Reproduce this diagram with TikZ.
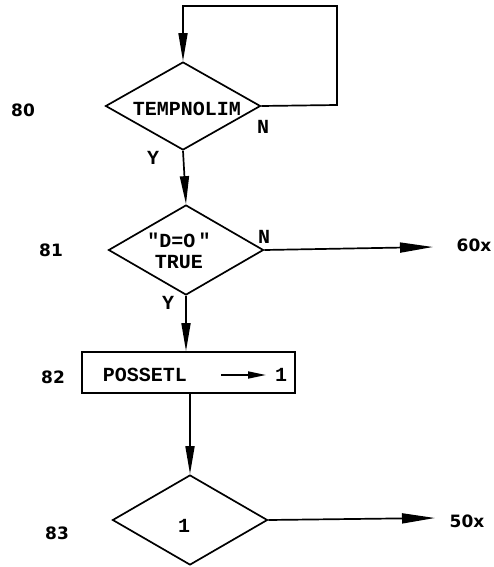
\documentclass[tikz,border=0pt]{standalone}
\usepackage{fontspec}
\setmainfont{Liberation Serif}
\newfontfamily\twfont{Liberation Mono}
\newfontfamily\lblfont{DejaVu Sans}
\usetikzlibrary{shapes.geometric,arrows.meta}
\tikzset{
  dia/.style={diamond, draw, line width=1.7pt, inner sep=0pt, minimum width=155pt, minimum height=88pt},
  procbox/.style={rectangle, draw, line width=1.7pt, inner sep=0pt, minimum width=213pt, minimum height=41pt},
  tw/.style={font=\twfont\bfseries\fontsize{20}{21}\selectfont, inner sep=0pt, align=center},
  lbl/.style={font=\lblfont\bfseries\fontsize{17}{19}\selectfont, inner sep=0pt},
  arr/.style={line width=1.7pt, -{Triangle[length=28pt,width=9pt]}},
  harr/.style={line width=1.7pt, -{Triangle[length=33pt,width=10pt]}},
  smarr/.style={line width=1.7pt, -{Triangle[length=18pt,width=7pt]}}
}
\begin{document}
\begin{tikzpicture}[x=1pt,y=-1pt]
\useasboundingbox (0,0) rectangle (493,567);
% nodes
\node[dia, minimum height=88pt] (d80) at (183,106) {};
\node[tw] (t80) at (187,109) {TEMPNOLIM};
\node[dia, minimum height=90pt] (d81) at (186,250) {};
\node[tw] (t81) at (179,251) {"D=O\,"\\TRUE};
\node[procbox] (r82) at (188.5,372.5) {};
\node[tw] (t82) at (145,375) {POSSETL};
\node[tw] (one82) at (281,375) {1};
\node[dia, minimum height=90pt] (d83) at (190,520) {};
\node[tw] (t83) at (184,526) {1};
% side labels
\node[lbl] (l80) at (23,110) {80};
\node[lbl] (l81) at (51,250) {81};
\node[lbl] (l82) at (53,377) {82};
\node[lbl] (l83) at (57,533) {83};
\node[lbl] (x60) at (474,245) {60x};
\node[lbl] (x50) at (467,521) {50x};
% branch labels
\node[tw] (n80) at (263,127) {N};
\node[tw] (y80) at (153,158) {Y};
\node[tw] (n81) at (264,237) {N};
\node[tw] (y81) at (168,303) {Y};
% coordinates
\coordinate (lp1) at (337,105);
\coordinate (lp2) at (337,6);
\coordinate (lp3) at (d80.north |- lp2);
\coordinate (e81) at (433,247);
\coordinate (e83) at (435,518);
\coordinate (a1) at (221,375);
\coordinate (a2) at (266,375);
% connectors
\draw[arr] (d80.east) -- (lp1) -- (lp2) -- (lp3) -- (d80.north);
\draw[arr] (d80.south) -- (d81.north);
\draw[harr] (d81.east) -- (e81);
\draw[arr] (d81.south) -- (d81.south |- r82.north);
\draw[arr] (r82.south -| d83.north) -- (d83.north);
\draw[harr] (d83.east) -- (e83);
\draw[smarr] (a1) -- (a2);
\end{tikzpicture}
\end{document}
